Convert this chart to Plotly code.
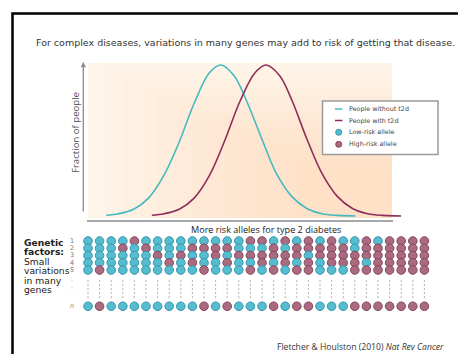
import plotly.graph_objects as go

OFF = 8  # the page body adds an 8px margin; coordinates below are screen pixels
W, H = 466 - OFF, 354 - OFF

# ---------------- data ----------------
title_text = "For complex diseases, variations in many genes may add to risk of getting that disease."
x_label = "More risk alleles for type 2 diabetes"
y_label = "Fraction of people"
series_names = ["People without t2d", "People with t2d"]
allele_names = ["Low-risk allele", "High-risk allele"]

# distribution curves (risk-allele score, relative fraction of people)
without_x = [6, 10, 15, 20, 25, 30, 35, 40, 43.75, 48, 52, 57, 62, 67, 72, 77, 82, 88]
without_y = [0.005, 0.015, 0.045, 0.12, 0.27, 0.49, 0.75, 0.95, 1.0, 0.93, 0.77, 0.52, 0.28, 0.13, 0.05, 0.015, 0.004, 0.0]
with_x = [21, 25, 30, 35, 40, 45, 50, 55, 58.6, 63, 67, 72, 77, 82, 87, 92, 97, 103]
with_y = [0.005, 0.015, 0.045, 0.12, 0.27, 0.5, 0.76, 0.95, 1.0, 0.93, 0.77, 0.51, 0.28, 0.13, 0.05, 0.015, 0.004, 0.0]

# genetic factor grid: 0 = low-risk allele, 1 = high-risk allele (30 people)
row_labels = ["1", "2", "3", "4", "5", "n"]
row_positions = [1, 2, 3, 4, 5, 10]
gene_rows = [
    [0,0,0,0,1,0,0,0,0,0,0,0,0,0,1,1,0,1,0,1,0,1,0,0,1,0,1,1,1,1],
    [0,0,0,1,0,1,0,0,0,1,1,1,1,0,0,0,1,0,1,1,1,1,1,0,1,1,1,1,1,1],
    [0,0,0,0,0,0,1,0,1,0,0,1,0,1,1,1,1,1,1,0,1,1,1,1,1,1,1,1,1,1],
    [0,0,0,0,0,0,0,1,0,1,0,0,1,0,0,1,0,1,0,1,0,1,1,1,0,1,1,1,1,1],
    [0,1,0,0,0,0,0,0,0,0,1,0,0,0,1,0,1,0,1,1,0,0,0,1,1,1,1,1,1,1],
    [0,1,0,0,0,0,0,0,0,0,1,0,1,0,0,0,1,0,1,1,0,0,0,1,1,1,1,1,1,1],
]
citation = "Fletcher & Houlston (2010) <i>Nat Rev Cancer</i>"

# ---------------- styles ----------------
TEAL = "#45b9c0"
MAROON = "#8d2f5a"
BLUE_DOT = "#56bcd0"
BLUE_EDGE = "#3596ad"
RED_DOT = "#aa6a7f"
RED_EDGE = "#84445c"
FONT = "DejaVu Sans"


def px(x):
    return (x - OFF) / W


def py(y):
    return 1 - (y - OFF) / H


fig = go.Figure()

fig.add_trace(go.Scatter(x=without_x, y=without_y, mode="lines", line=dict(color=TEAL, width=1.6, shape="spline"),
                         name=series_names[0], showlegend=False, hoverinfo="skip"))
fig.add_trace(go.Scatter(x=with_x, y=with_y, mode="lines", line=dict(color=MAROON, width=1.6, shape="spline"),
                         name=series_names[1], showlegend=False, hoverinfo="skip"))

# dotted connectors between row 5 and row n
ncols = len(gene_rows[0])
cols = list(range(1, ncols + 1))
for c in cols:
    fig.add_trace(go.Scatter(x=[c, c], y=[6.4, 9.1], mode="lines", xaxis="x2", yaxis="y2",
                             line=dict(color="#b0b0b0", width=1, dash="2px,2px"),
                             showlegend=False, hoverinfo="skip"))

dx, dy, dc, de = [], [], [], []
for r, rowvals in zip(row_positions, gene_rows):
    for c, v in zip(cols, rowvals):
        dx.append(c)
        dy.append(r)
        dc.append(RED_DOT if v else BLUE_DOT)
        de.append(RED_EDGE if v else BLUE_EDGE)
fig.add_trace(go.Scatter(x=dx, y=dy, mode="markers", xaxis="x2", yaxis="y2",
                         marker=dict(size=8.6, color=dc, line=dict(color=de, width=1)),
                         showlegend=False, hoverinfo="skip"))

shapes = []
# frame of slide
shapes.append(dict(type="path", xref="paper", yref="paper",
                   path=f"M {px(12.5)} -0.05 L {px(12.5)} {py(13.5)} L 1.05 {py(13.5)}",
                   line=dict(color="black", width=2.5)))
# gradient background (stacked translucent rectangles anchored bottom-right)
x0b, x1b, y0b, y1b = 88, 392, 63, 218
shapes.append(dict(type="rect", xref="paper", yref="paper", x0=px(x0b), x1=px(x1b), y0=py(y1b), y1=py(y0b),
                   fillcolor="#fef7ec", line=dict(width=0), layer="below"))
steps = 14
for i in range(steps):
    f = i / steps
    xs = x0b + (x1b - x0b) * (0.0 + 0.8 * f)
    ys = y0b + (y1b - y0b) * (0.0 + 0.75 * f)
    shapes.append(dict(type="rect", xref="paper", yref="paper", x0=px(xs), x1=px(x1b), y0=py(y1b), y1=py(ys),
                       fillcolor="rgba(252,214,160,0.045)", line=dict(width=0), layer="below"))
# x axis line
shapes.append(dict(type="line", xref="paper", yref="paper", x0=px(87), x1=px(393), y0=py(221), y1=py(221),
                   line=dict(color="#8a8a8a", width=1.5)))
# legend box
shapes.append(dict(type="rect", xref="paper", yref="paper", x0=px(322.5), x1=px(438), y0=py(154.5), y1=py(101),
                   fillcolor="white", line=dict(color="#9a9a9a", width=1.5)))
leg_rows = [109, 120.5, 132.3, 144.3]
shapes.append(dict(type="line", xref="paper", yref="paper", x0=px(335), x1=px(342.5), y0=py(leg_rows[0]), y1=py(leg_rows[0]),
                   line=dict(color=TEAL, width=1.5)))
shapes.append(dict(type="line", xref="paper", yref="paper", x0=px(335), x1=px(342.5), y0=py(leg_rows[1]), y1=py(leg_rows[1]),
                   line=dict(color=MAROON, width=1.5)))
for yy, fc, ec in [(leg_rows[2], BLUE_DOT, BLUE_EDGE), (leg_rows[3], RED_DOT, RED_EDGE)]:
    shapes.append(dict(type="circle", xref="paper", yref="paper", xsizemode="pixel", ysizemode="pixel",
                       xanchor=px(338.7), yanchor=py(yy), x0=-3, x1=3, y0=-3, y1=3,
                       fillcolor=fc, line=dict(color=ec, width=1)))

ann = []
ann.append(dict(text=title_text, x=px(245), y=py(42), xref="paper", yref="paper", showarrow=False,
                font=dict(family=FONT, size=9.5, color="#333333"), xanchor="center", yanchor="middle"))
ann.append(dict(text=x_label, x=px(266), y=py(229), xref="paper", yref="paper", showarrow=False,
                font=dict(family="Open Sans", size=9.1, color="#222222"), xanchor="center", yanchor="middle"))
ann.append(dict(text=y_label, x=px(75), y=py(133), xref="paper", yref="paper", showarrow=False, textangle=-90,
                font=dict(family="Open Sans", size=9.6, color="#555555"), xanchor="center", yanchor="middle"))
# y axis arrow
ann.append(dict(text="", x=px(83.3), y=py(62), xref="paper", yref="paper", showarrow=True, ax=0, ay=151,
                arrowhead=2, arrowsize=0.8, arrowwidth=1.3, arrowcolor="#8a8a8a"))
# legend texts
for yy, t in zip(leg_rows, series_names + allele_names):
    ann.append(dict(text=t, x=px(346.5), y=py(yy), xref="paper", yref="paper", showarrow=False,
                    font=dict(family=FONT, size=6.4, color="#444444"), xanchor="left", yanchor="middle"))
# genetic factors label
left_lines = [("<b>Genetic</b>", 242), ("<b>factors:</b>", 251.5), ("Small", 261), ("variations", 270.5),
              ("in many", 280), ("genes", 289.5)]
for t, yy in left_lines:
    ann.append(dict(text=t, x=px(22), y=py(yy), xref="paper", yref="paper", showarrow=False,
                    font=dict(family=FONT, size=9.2, color="#222222"), xanchor="left", yanchor="middle"))
# row labels
for lab, r in zip(row_labels, row_positions):
    ann.append(dict(text=("<i>" + lab + "</i>") if lab == "n" else lab, x=px(72), y=r, xref="paper", yref="y2",
                    showarrow=False, font=dict(family=FONT, size=6.4, color="#777777"),
                    xanchor="center", yanchor="middle"))
for r in [6.2, 7.1, 8.0]:
    ann.append(dict(text=".", x=px(72), y=r, xref="paper", yref="y2", showarrow=False,
                    font=dict(family=FONT, size=6, color="#999999"), xanchor="center", yanchor="middle"))
ann.append(dict(text=citation, x=px(275), y=py(347), xref="paper", yref="paper", showarrow=False,
                font=dict(family="Open Sans", size=8.6, color="#333333"), xanchor="left", yanchor="middle"))

# axis geometry
x_dom = [px(88), px(405)]
x_rng = [0, (405 - 88) / 3.04]
y_dom = [py(221), py(60)]
y_rng = [(216 - 221) / 151, (216 - 60) / 151]
x2_dom = [px(76.4), px(436)]
y2_dom = [py(316), py(230)]
y2_rng = [(316 - 241) / 7.25 + 1, (230 - 241) / 7.25 + 1]

fig.update_layout(
    width=W, height=H, margin=dict(l=0, r=0, t=0, b=0),
    paper_bgcolor="white", plot_bgcolor="rgba(0,0,0,0)",
    xaxis=dict(domain=x_dom, range=x_rng, visible=False, fixedrange=True),
    yaxis=dict(domain=y_dom, range=y_rng, visible=False, fixedrange=True),
    xaxis2=dict(domain=x2_dom, range=[0, 31], visible=False, anchor="y2"),
    yaxis2=dict(domain=y2_dom, range=y2_rng, visible=False, anchor="x2"),
    shapes=shapes, annotations=ann, showlegend=False,
)

fig.write_html("out.html")
